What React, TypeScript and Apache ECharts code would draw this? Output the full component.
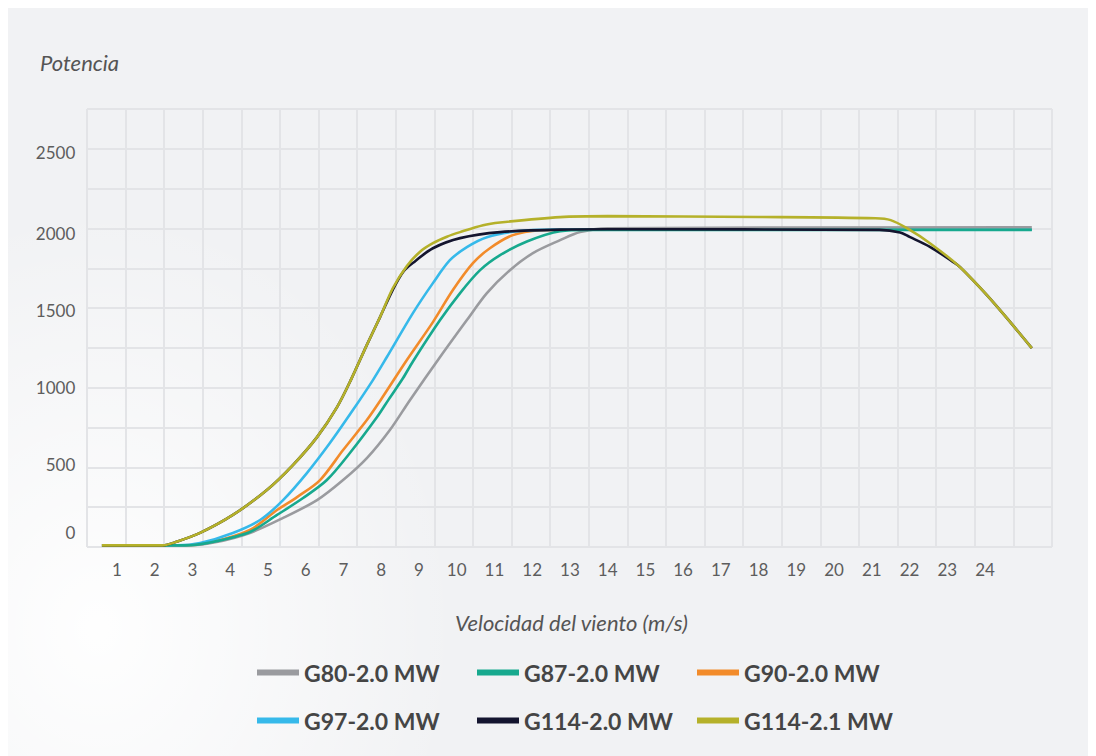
import React, { useEffect, useRef } from "react";
import * as echarts from "echarts";

const seriesNames = ["G80-2.0 MW", "G87-2.0 MW", "G90-2.0 MW", "G97-2.0 MW", "G114-2.0 MW", "G114-2.1 MW"];
const seriesColors = ["#9a9b9f", "#17a98e", "#f28b2a", "#36b9ea", "#14152f", "#b5b12a"];

const xTickLabels = [1, 2, 3, 4, 5, 6, 7, 8, 9, 10, 11, 12, 13, 14, 15, 16, 17, 18, 19, 20, 21, 22, 23, 24];
const yTickLabels = [0, 500, 1000, 1500, 2000, 2500];

const g80: number[][] = [[0.6, 10], [2.8, 10], [3.6, 30], [4.52, 89], [5.4, 184], [6.3, 297], [6.99, 424], [7.62, 563], [8.23, 741], [8.76, 930], [9.56, 1203], [10.27, 1437], [10.8, 1608], [11.41, 1753], [12.02, 1861], [12.74, 1943], [13.27, 1995], [14, 2018], [25.24, 2025]];
const g87: number[][] = [[0.6, 10], [2.8, 10], [3.5, 30], [4.52, 95], [5.24, 203], [5.93, 310], [6.56, 424], [7.17, 595], [7.89, 823], [8.2, 935], [8.58, 1070], [8.84, 1175], [9.56, 1437], [10.09, 1608], [10.62, 1753], [11.15, 1848], [11.86, 1935], [12.74, 2000], [13.5, 2008], [25.24, 2008]];
const g90: number[][] = [[0.6, 10], [2.8, 10], [3.5, 30], [4.52, 108], [5.24, 234], [5.77, 316], [6.38, 424], [6.99, 614], [7.62, 804], [7.97, 925], [8.68, 1184], [9.37, 1424], [9.9, 1627], [10.43, 1797], [10.88, 1892], [11.49, 1975], [12.21, 2006], [13, 2010], [25.24, 2010]];
const g97: number[][] = [[0.6, 10], [2.6, 10], [3.2, 25], [4.07, 89], [4.79, 171], [5.4, 297], [6.03, 468], [6.64, 658], [7.25, 867], [7.78, 1057], [8.15, 1203], [8.84, 1481], [9.37, 1671], [9.82, 1816], [10.27, 1899], [10.8, 1962], [11.6, 2000], [12.5, 2010], [25.24, 2010]];
const g114_20: number[][] = [[0.6, 10], [2.2, 10], [2.6, 35], [3.2, 89], [4.07, 203], [4.97, 361], [5.66, 519], [6.3, 696], [6.83, 886], [7.2, 1060], [7.62, 1280], [7.97, 1456], [8.31, 1630], [8.6, 1748], [8.9, 1810], [9.37, 1892], [10.09, 1956], [11.15, 1994], [12.74, 2010], [14, 2012], [21.2, 2008], [21.75, 1992], [22.0, 1964], [22.54, 1901], [23.15, 1806], [23.34, 1772], [24.05, 1595], [24.58, 1449], [25.24, 1259]];
const g114_21: number[][] = [[0.6, 10], [2.2, 10], [2.6, 35], [3.2, 89], [4.07, 203], [4.97, 361], [5.66, 519], [6.3, 696], [6.83, 886], [7.2, 1060], [7.62, 1280], [7.97, 1456], [8.31, 1640], [8.68, 1780], [9.03, 1870], [9.37, 1924], [9.74, 1965], [10.09, 1994], [10.7, 2038], [11.15, 2055], [12.74, 2089], [14, 2095], [18, 2090], [21.1, 2082], [21.5, 2070], [21.93, 2019], [22.54, 1924], [23.34, 1772], [24.05, 1595], [24.58, 1449], [25.24, 1259]];

const seriesData = [g80, g87, g90, g97, g114_20, g114_21];
// drawing order (bottom to top)
const drawOrder = [2, 3, 0, 1, 4, 5];

const labelFont = "Lato";

export default function App() {
  const ref = useRef<HTMLDivElement>(null);
  useEffect(() => {
    document.body.style.overflow = "hidden";
    const chart = echarts.init(ref.current!, null, { renderer: "svg" });
    const yShift: Record<number, number> = { 0: 15, 500: 4, 1000: 2, 1500: 0, 2000: -2, 2500: 0 };
    const rich: Record<string, any> = {};
    yTickLabels.forEach((v) => {
      const d = yShift[v] || 0;
      rich["s" + v] = {
        fontFamily: labelFont,
        fontSize: 17,
        color: "#5d5d5d",
        padding: d >= 0 ? [0, 0, 2 * d, 0] : [-2 * d, 0, 0, 0],
      };
    });
    const legendPos = [
      { left: 244, top: 648 },
      { left: 464, top: 648 },
      { left: 684, top: 648 },
      { left: 244, top: 696 },
      { left: 464, top: 696 },
      { left: 684, top: 696 },
    ];
    const option: any = {
      animation: false,
      backgroundColor: "transparent",
      grid: [
        { left: 71.3, width: 981.2, top: 100, height: 439 },
        { left: 79, width: 965, top: 101, height: 438 },
      ],
      xAxis: [
        {
          type: "value",
          gridIndex: 0,
          min: 0,
          max: 26,
          interval: 1,
          axisLine: { show: false },
          axisTick: { show: false },
          splitLine: { show: false },
          axisLabel: {
            margin: 14,
            fontFamily: labelFont,
            fontSize: 17,
            color: "#5d5d5d",
            formatter: (v: number) => (xTickLabels.includes(v) ? String(v) : ""),
          },
        },
        {
          type: "value",
          gridIndex: 1,
          min: 0,
          max: 25,
          interval: 1,
          axisLine: { show: false },
          axisTick: { show: false },
          axisLabel: { show: false },
          splitLine: { show: true, lineStyle: { color: "#e3e4e7", width: 2 } },
        },
      ],
      yAxis: [
        {
          type: "value",
          gridIndex: 0,
          min: 0,
          max: 2780,
          interval: 500,
          axisLine: { show: false },
          axisTick: { show: false },
          splitLine: { show: false },
          axisLabel: {
            margin: 4,
            fontFamily: labelFont,
            fontSize: 17,
            color: "#5d5d5d",
            formatter: (v: number) => (yTickLabels.includes(v) ? `{s${v}|${v}}` : ""),
            rich,
          },
        },
        {
          type: "value",
          gridIndex: 1,
          min: 0,
          max: 11,
          interval: 1,
          axisLine: { show: false },
          axisTick: { show: false },
          axisLabel: { show: false },
          splitLine: { show: true, lineStyle: { color: "#e3e4e7", width: 2 } },
        },
      ],
      legend: seriesNames.map((name, i) => ({
        data: [name],
        left: legendPos[i].left,
        top: legendPos[i].top,
        icon: "rect",
        itemWidth: 42,
        itemHeight: 6,
        selectedMode: false,
        textStyle: { fontFamily: labelFont, fontWeight: "bold", fontSize: 23, color: "#454545" },
      })),
      graphic: [
        {
          type: "text",
          x: 32,
          y: 54,
          style: { text: "Potencia", font: "italic 22px Lato", fill: "#555555", align: "left", verticalAlign: "middle" },
        },
        {
          type: "text",
          x: 563.5,
          y: 614,
          style: { text: "Velocidad del viento (m/s)", font: "italic 22px Lato", fill: "#555555", align: "center", verticalAlign: "middle" },
        },
      ],
      series: drawOrder.map((i) => ({
        name: seriesNames[i],
        type: "line",
        xAxisIndex: 0,
        yAxisIndex: 0,
        data: seriesData[i],
        showSymbol: false,
        symbol: "none",
        smooth: 0.3,
        color: seriesColors[i],
        lineStyle: { color: seriesColors[i], width: 2.6 },
      })),
    };
    chart.setOption(option);
    return () => chart.dispose();
  }, []);
  return (
    <div
      ref={ref}
      style={{
        width: 1100,
        height: 760,
        background:
          "radial-gradient(ellipse 360px 420px at 90px 620px, rgba(255,255,255,0.95) 0%, rgba(255,255,255,0) 100%), #f1f2f4",
      }}
    />
  );
}
